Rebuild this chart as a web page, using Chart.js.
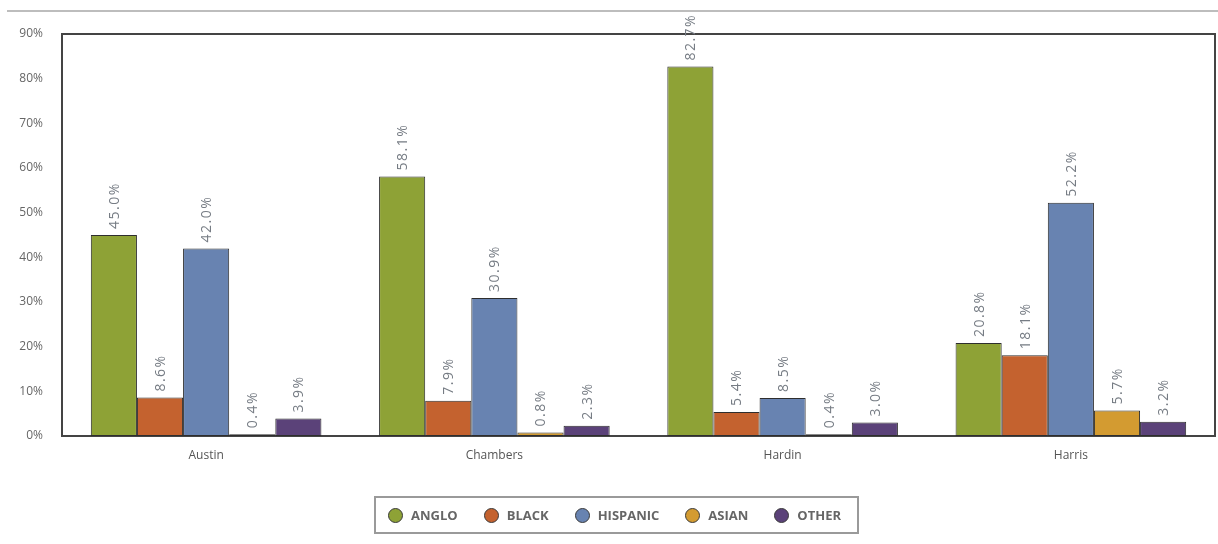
<!DOCTYPE html>
<html>
<head>
<meta charset="utf-8">
<script src="https://cdn.jsdelivr.net/npm/chart.js@4.4.1/dist/chart.umd.min.js"></script>
<style>
  html, body { margin: 0; padding: 0; background: #fff; }
  #wrap { position: relative; width: 1218px; height: 544px; }
  #topline { position: absolute; left: 7px; right: 0; top: 10px; height: 2px; background: #bdbdbd; }
  #legend {
    position: absolute; left: 374px; top: 496px; width: 485px; height: 38px;
    border: 2px solid #9a9a9a; display: flex; align-items: center; padding-left: 12px;
    box-sizing: border-box; font-family: "Open Sans", sans-serif; font-weight: 700;
    font-size: 13px; color: #666;
  }
  .item { display: flex; align-items: center; margin-right: 26px; }
  .dot { width: 13px; height: 13px; border-radius: 50%; border: 1.5px solid #3a3a3a; margin-right: 8px; }
</style>
</head>
<body>
<div id="wrap">
  <div id="topline"></div>
  <canvas id="chart" width="1218" height="544"></canvas>
  <div id="legend"></div>
</div>
<script>
const counties = ['Austin', 'Chambers', 'Hardin', 'Harris'];
const seriesNames = ['ANGLO', 'BLACK', 'HISPANIC', 'ASIAN', 'OTHER'];
const seriesColors = ['#8ea236', '#c4622f', '#6883b1', '#d39b31', '#5b4279'];

const anglo = [45.0, 58.1, 82.7, 20.8];
const black = [8.6, 7.9, 5.4, 18.1];
const hispanic = [42.0, 30.9, 8.5, 52.2];
const asian = [0.4, 0.8, 0.4, 5.7];
const other = [3.9, 2.3, 3.0, 3.2];

const yTicks = [0, 10, 20, 30, 40, 50, 60, 70, 80, 90];

const seriesValues = [anglo, black, hispanic, asian, other];

// dark frame round the plot area
const frame = {
    id: 'frame',
    beforeDatasetsDraw(chart) {
        const a = chart.chartArea;
        const ctx = chart.ctx;
        ctx.save();
        ctx.strokeStyle = '#444';
        ctx.lineWidth = 2;
        ctx.strokeRect(a.left, a.top, a.right - a.left, a.bottom - a.top);
        ctx.restore();
    }
};

// rotated value labels above each bar
const valueLabels = {
    id: 'valueLabels',
    afterDatasetsDraw(chart) {
        const ctx = chart.ctx;
        ctx.save();
        ctx.fillStyle = '#767c84';
        ctx.font = '14px "Open Sans", sans-serif';
        ctx.letterSpacing = '1.5px';
        ctx.textAlign = 'left';
        ctx.textBaseline = 'middle';
        chart.data.datasets.forEach((ds, i) => {
            chart.getDatasetMeta(i).data.forEach((bar, j) => {
                ctx.save();
                ctx.translate(bar.x + 1, bar.y - 6);
                ctx.rotate(-Math.PI / 2);
                ctx.fillText(ds.data[j].toFixed(1) + '%', 0, 0);
                ctx.restore();
            });
        });
        ctx.restore();
    }
};

new Chart(document.getElementById('chart'), {
    type: 'bar',
    data: {
        labels: counties,
        datasets: seriesNames.map((name, i) => ({
            label: name,
            data: seriesValues[i],
            backgroundColor: seriesColors[i],
            borderColor: '#2e2e2e',
            borderWidth: 1,
            borderSkipped: false,
            categoryPercentage: 0.8,
            barPercentage: 1.0
        }))
    },
    options: {
        responsive: false,
        animation: false,
        layout: { padding: { top: 34, right: 3, left: 0, bottom: 0 } },
        plugins: { legend: { display: false }, tooltip: { enabled: false } },
        scales: {
            x: {
                grid: { display: false },
                border: { display: false },
                ticks: { color: '#555', font: { family: 'Open Sans', size: 12 }, padding: 4 },
                afterFit(s) { s.height = 108; }
            },
            y: {
                min: 0,
                max: 90,
                afterBuildTicks(s) { s.ticks = yTicks.map(v => ({ value: v })); },
                grid: { display: false },
                border: { display: false },
                ticks: {
                    color: '#666',
                    font: { family: 'Open Sans', size: 12 },
                    padding: 11,
                    callback: v => v + '%'
                },
                afterFit(s) { s.width = 62; }
            }
        }
    },
    plugins: [frame, valueLabels]
});

const legend = document.getElementById('legend');
seriesNames.forEach((name, i) => {
    const item = document.createElement('div');
    item.className = 'item';
    item.innerHTML = '<span class="dot" style="background:' + seriesColors[i] + '"></span>' + name;
    legend.appendChild(item);
});
</script>
</body>
</html>
